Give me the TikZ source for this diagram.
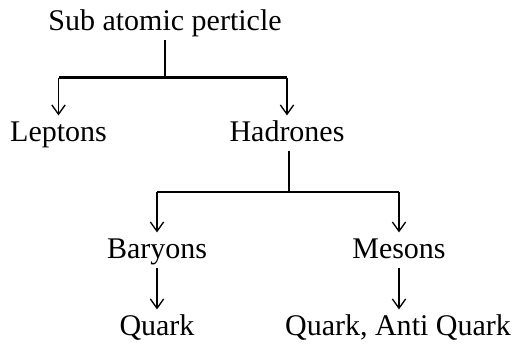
\documentclass[tikz,border=0pt]{standalone}
\usepackage{fontspec}
\setmainfont{Liberation Serif}
\usetikzlibrary{arrows.meta}

\tikzset{
  word/.style={anchor=base, inner sep=0pt, text height=0.7em, text depth=0pt,
    font=\fontsize{22.5}{27}\selectfont},
  trunk/.style={line width=1.6pt, shorten <=7pt},
  branch/.style={line width=1.6pt},
  down/.style={line width=1pt, -{Straight Barb[length=7pt, width=10pt]}, shorten >=12pt},
  downfrom/.style={down, shorten <=7.5pt}
}

\begin{document}
\begin{tikzpicture}[x=0.75pt, y=-0.75pt]
        \useasboundingbox (0,0) rectangle (516,347);

        % uzly
        \node[word] (sub) at (165,30) {Sub atomic perticle};
        \node[word] (lep) at (58.5,141) {Leptons};
        \node[word] (had) at (287,141) {Hadrones};
        \node[word] (bar) at (157,258) {Baryons};
        \node[word] (mes) at (399,258) {Mesons};
        \node[word] (qb) at (157,335) {Quark};
        \node[word] (qm) at (398,335) {Quark, Anti Quark};

        % rozvetveni
        \coordinate (j1) at (165,77.5);
        \coordinate (j2) at (289,192);

        \draw[trunk] (sub.south) -- (sub.south |- j1);
        \draw[branch] (lep |- j1) -- (had |- j1);
        \draw[down] (lep |- j1) -- (lep.north);
        \draw[down] (had |- j1) -- (had.north);

        \draw[trunk] (had.south -| j2) -- (j2);
        \draw[branch] (bar |- j2) -- (mes |- j2);
        \draw[down] (bar |- j2) -- (bar.north);
        \draw[down] (mes |- j2) -- (mes.north);

        % kvarky
        \draw[downfrom] (bar.south) -- (qb.north);
        \draw[downfrom] (mes.south) -- (mes.south |- qm.north);
    \end{tikzpicture}
\end{document}
